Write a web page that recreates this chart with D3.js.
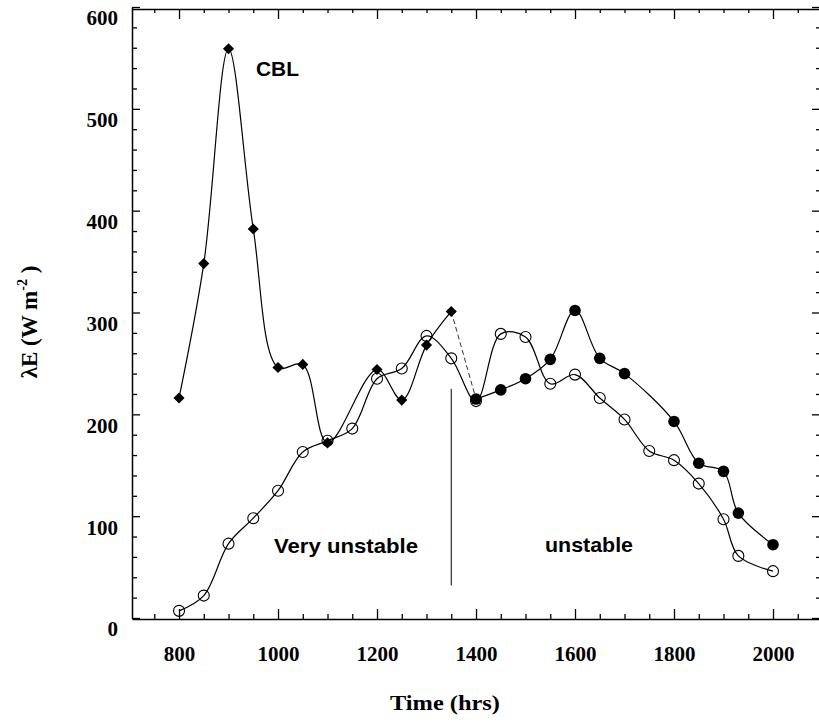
<!DOCTYPE html>
<html>
<head>
<meta charset="utf-8">
<script src="https://cdn.jsdelivr.net/npm/d3@7"></script>
<style>
  html, body { margin: 0; padding: 0; background: #fff; }
  svg { display: block; }
</style>
</head>
<body>
<svg id="chart" width="819" height="726"></svg>
<script>
// Latent heat flux over the day, open circles = surface, CBL = boundary-layer budget
const surfaceTimes = [800, 850, 900, 950, 1000, 1050, 1100, 1150, 1200, 1250, 1300, 1350, 1400,
                      1450, 1500, 1550, 1600, 1650, 1700, 1750, 1800, 1850, 1900, 1930, 2000];
const surfaceValues = [7, 22, 73, 98, 125, 163, 174, 186, 235, 245, 277, 255, 213,
                       279, 276, 230, 239, 216, 195, 164, 155, 132, 97, 61, 46];

// CBL estimate in the very unstable regime (diamonds)
const cblVeryTimes = [800, 850, 900, 950, 1000, 1050, 1100, 1200, 1250, 1300, 1350];
const cblVeryValues = [216, 348, 559, 382, 246, 249, 172, 244, 214, 268, 301];

// CBL estimate in the unstable regime (filled circles)
const cblUnstTimes = [1400, 1450, 1500, 1550, 1600, 1650, 1700, 1800, 1850, 1900, 1930, 2000];
const cblUnstValues = [215, 224, 235, 254, 302, 255, 240, 193, 152, 144, 103, 72];

const xMajorTicks = [800, 1000, 1200, 1400, 1600, 1800, 2000];
const yMajorTicks = [0, 100, 200, 300, 400, 500, 600];
const regimeBoundary = 1350;

const svg = d3.select("#chart");
svg.append("rect").attr("width", 819).attr("height", 726).attr("fill", "#fff");

const x = d3.scaleLinear().domain([705, 2100]).range([132, 822.5]);
const y = d3.scaleLinear().domain([0, 600]).range([618, 7]);

const serif = "'Liberation Serif', 'Times New Roman', serif";
const sans = "'Liberation Sans', Arial, sans-serif";

const xMinor = d3.range(750, 2100, 50).filter(t => !xMajorTicks.includes(t));
const yMinor = d3.range(20, 600, 20).filter(v => v % 100 !== 0);

function styleAxis(g) {
  g.select(".domain").attr("stroke", "#000").attr("stroke-width", 1.5);
  g.selectAll(".tick line").attr("stroke", "#000").attr("stroke-width", 1.3);
}

// bottom axis with labels
const gBottom = svg.append("g").attr("transform", `translate(0,${y(0) + 1})`)
  .call(d3.axisBottom(x).tickValues(xMajorTicks).tickSize(-10).tickSizeOuter(0)
    .tickPadding(27).tickFormat(d3.format("d")));
styleAxis(gBottom);
gBottom.selectAll("text").attr("font-family", serif).attr("font-weight", "bold")
  .attr("font-size", 21).attr("fill", "#000");
svg.append("g").attr("transform", `translate(0,${y(0) + 1})`)
  .call(d3.axisBottom(x).tickValues(xMinor).tickSize(-5).tickSizeOuter(0).tickFormat(""))
  .call(styleAxis).select(".domain").remove();

// top axis, ticks only
const gTop = svg.append("g").attr("transform", `translate(0,${y(600) + 2})`)
  .call(d3.axisTop(x).tickValues(xMajorTicks).tickSize(-10).tickSizeOuter(0).tickFormat(""));
styleAxis(gTop);
svg.append("g").attr("transform", `translate(0,${y(600) + 2})`)
  .call(d3.axisTop(x).tickValues(xMinor).tickSize(-4).tickSizeOuter(0).tickFormat(""))
  .call(styleAxis).select(".domain").remove();

// left axis with labels
const gLeft = svg.append("g").attr("transform", `translate(${x(705)},0)`)
  .call(d3.axisLeft(y).tickValues(yMajorTicks).tickSize(-8).tickSizeOuter(0).tickPadding(14)
    .tickFormat(d3.format("d")));
styleAxis(gLeft);
gLeft.selectAll("text").attr("font-family", serif).attr("font-weight", "bold")
  .attr("font-size", 21).attr("fill", "#000").attr("dy", "0.85em");
svg.append("g").attr("transform", `translate(${x(705)},0)`)
  .call(d3.axisLeft(y).tickValues(yMinor).tickSize(-5).tickSizeOuter(0).tickFormat(""))
  .call(styleAxis).select(".domain").remove();

// right axis, ticks only
const gRight = svg.append("g").attr("transform", "translate(820,0)")
  .call(d3.axisRight(y).tickValues(yMajorTicks).tickSize(-8).tickSizeOuter(0).tickFormat(""));
styleAxis(gRight);
svg.append("g").attr("transform", "translate(820,0)")
  .call(d3.axisRight(y).tickValues(yMinor).tickSize(-4).tickSizeOuter(0).tickFormat(""))
  .call(styleAxis).select(".domain").remove();

// series
const line = d3.line().x(d => x(d[0])).y(d => y(d[1])).curve(d3.curveCatmullRom.alpha(0.5));
const surface = surfaceTimes.map((t, i) => [t, surfaceValues[i]]);
const cblVery = cblVeryTimes.map((t, i) => [t, cblVeryValues[i]]);
const cblUnst = cblUnstTimes.map((t, i) => [t, cblUnstValues[i]]);

const plot = svg.append("g");
plot.append("path").datum(surface).attr("d", line)
  .attr("fill", "none").attr("stroke", "#000").attr("stroke-width", 1.2);
plot.append("path").datum(cblVery).attr("d", line)
  .attr("fill", "none").attr("stroke", "#000").attr("stroke-width", 1.2);
plot.append("path").datum(cblUnst).attr("d", line)
  .attr("fill", "none").attr("stroke", "#000").attr("stroke-width", 1.2);
// link between the two regimes
const lastVery = cblVery[cblVery.length - 1], firstUnst = cblUnst[0];
plot.append("line")
  .attr("x1", x(lastVery[0])).attr("y1", y(lastVery[1]))
  .attr("x2", x(firstUnst[0])).attr("y2", y(firstUnst[1]))
  .attr("stroke", "#333").attr("stroke-width", 1).attr("stroke-dasharray", "5,3");

// regime boundary
plot.append("line")
  .attr("x1", x(regimeBoundary)).attr("x2", x(regimeBoundary))
  .attr("y1", y(225)).attr("y2", y(32))
  .attr("stroke", "#000").attr("stroke-width", 1);

// markers
plot.selectAll(".open").data(surface).join("circle")
  .attr("cx", d => x(d[0])).attr("cy", d => y(d[1])).attr("r", 5.5)
  .attr("fill", "none").attr("stroke", "#000").attr("stroke-width", 1.1);
plot.selectAll(".filled").data(cblUnst).join("circle")
  .attr("cx", d => x(d[0])).attr("cy", d => y(d[1])).attr("r", 5.8)
  .attr("fill", "#000");
const diamond = d3.symbol().type(d3.symbolSquare).size(62);
plot.selectAll(".dia").data(cblVery).join("path")
  .attr("d", diamond)
  .attr("transform", d => `translate(${x(d[0])},${y(d[1])}) rotate(45)`)
  .attr("fill", "#000");

// annotations
svg.append("text").attr("x", 256).attr("y", 76).text("CBL")
  .attr("font-family", sans).attr("font-weight", "bold").attr("font-size", 21)
  .attr("textLength", 43).attr("lengthAdjust", "spacingAndGlyphs");
svg.append("text").attr("x", 274).attr("y", 553).text("Very unstable")
  .attr("font-family", sans).attr("font-weight", "bold").attr("font-size", 21)
  .attr("textLength", 144).attr("lengthAdjust", "spacingAndGlyphs");
svg.append("text").attr("x", 545).attr("y", 552).text("unstable")
  .attr("font-family", sans).attr("font-weight", "bold").attr("font-size", 21)
  .attr("textLength", 88).attr("lengthAdjust", "spacingAndGlyphs");

// axis titles
svg.append("text").attr("x", 445).attr("y", 710).attr("text-anchor", "middle")
  .attr("font-family", serif).attr("font-weight", "bold").attr("font-size", 22)
  .attr("textLength", 110).attr("lengthAdjust", "spacingAndGlyphs")
  .text("Time (hrs)");

const yTitle = svg.append("text")
  .attr("transform", "translate(37,322) rotate(-90)")
  .attr("text-anchor", "middle")
  .attr("font-family", serif).attr("font-weight", "bold").attr("font-size", 23);
yTitle.append("tspan").text("\u03BBE (W m");
yTitle.append("tspan").attr("dy", -10).attr("font-size", 14).text("-2");
yTitle.append("tspan").attr("dy", 10).text(" )");
</script>
</body>
</html>
